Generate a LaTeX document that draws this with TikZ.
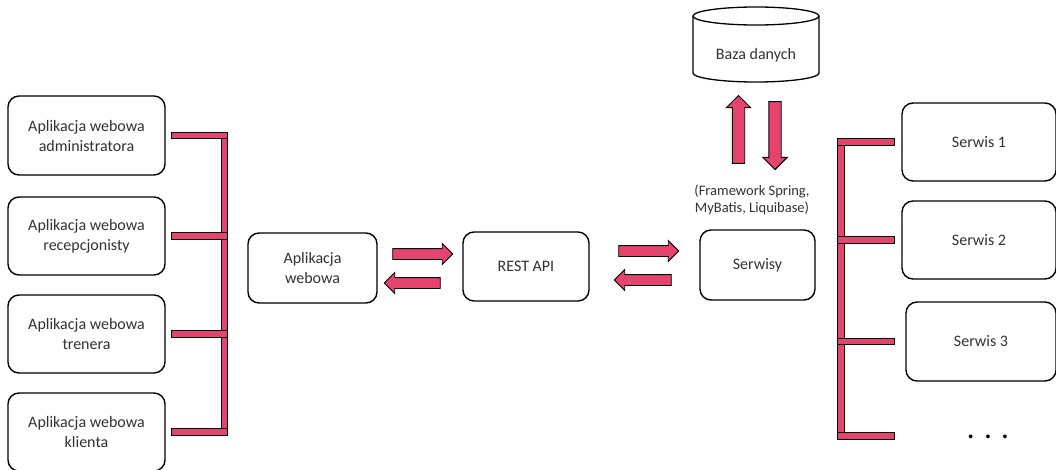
\documentclass[tikz,border=0pt]{standalone}
\usepackage{fontspec}
\setmainfont{Carlito}
\usetikzlibrary{shapes.arrows}

\definecolor{barpink}{RGB}{228,68,110}
\definecolor{txtgray}{RGB}{50,50,50}

\tikzset{
  box/.style={draw, line width=1.4pt, rounded corners=11pt, fill=white, text=txtgray,
    align=center, inner sep=0pt, font=\fontsize{16}{20}\selectfont},
  bar/.style={line width=0.9pt, double=barpink, double distance=5.5pt, line cap=rect},
  blk/.style={single arrow, draw, fill=barpink, line width=0.9pt, inner xsep=0pt,
    inner ysep=5pt, single arrow head extend=5pt},
}

\begin{document}
\begin{tikzpicture}[x=1pt,y=1pt]
      \useasboundingbox (0,0) rectangle (1056,-469);

      \node [box, minimum width=157pt, minimum height=79pt] (adm) at (86.5,-135.5) {Aplikacja webowa\\administratora};
      \node [box, minimum width=157pt, minimum height=78pt] (rec) at (86.5,-236) {Aplikacja webowa\\recepcjonisty};
      \node [box, minimum width=157pt, minimum height=78pt] (tre) at (86.5,-334) {Aplikacja webowa\\trenera};
      \node [box, minimum width=157pt, minimum height=78pt] (kli) at (86.5,-432) {Aplikacja webowa\\klienta};

      \coordinate (busL) at (224.5,0);
      \draw[bar] (adm.east -| busL) -- (kli.east -| busL);
      \foreach \n in {adm,rec,tre,kli}
        \draw[bar] ([xshift=8.6pt]\n.east) -- (\n.east -| busL);

      \node [box, minimum width=129pt, minimum height=70pt] (web) at (312.5,-268) {Aplikacja\\webowa};
      \node [box, minimum width=126pt, minimum height=69pt] (rest) at (526,-266.5) {REST API};
      \node [box, minimum width=115pt, minimum height=70pt] (srv) at (757.5,-265) {Serwisy};

      \node [blk, minimum height=60pt] (toRest) at (420,-254) {};
      \node [blk, minimum height=56pt, rotate=180] (fromRest) at (415,-283) {};
      \node [blk, minimum height=60pt] (toSrv) at (646,-251) {};
      \node [blk, minimum height=57pt, rotate=180] (fromSrv) at (645.5,-280) {};

      % baza danych
      \draw[line width=1.3pt, fill=white] (693,-16) -- (693,-73)
        arc[start angle=180, end angle=360, x radius=63pt, y radius=9pt] -- (819,-16)
        arc[start angle=0, end angle=180, x radius=63pt, y radius=9pt] -- cycle;
      \draw[line width=1.3pt] (693,-16) arc[start angle=180, end angle=360, x radius=63pt, y radius=9pt];
      \node [text=txtgray, font=\fontsize{16}{20}\selectfont] (db) at (756,-55) {Baza danych};

      \node [blk, minimum height=68pt, inner ysep=5.75pt, single arrow head extend=6pt, rotate=90] (toDb) at (738.5,-132.5) {};
      \node [blk, minimum height=68pt, inner ysep=5.75pt, single arrow head extend=6pt, rotate=-90] (fromDb) at (775,-132.5) {};
      \node [text=txtgray, align=center, font=\fontsize{14.5}{17}\selectfont] (fw) at (752,-200) {(Framework Spring,\\MyBatis, Liquibase)};

      \node [box, minimum width=154pt, minimum height=78pt] (s1) at (979,-142) {Serwis 1};
      \node [box, minimum width=154pt, minimum height=78pt] (s2) at (979,-240) {Serwis 2};
      \node [box, minimum width=150pt, minimum height=79pt] (s3) at (981,-341.5) {Serwis 3};
      \node [anchor=base, font=\fontsize{31}{31}\selectfont] (dots) at (988,-438.5) {. . .};

      \coordinate (busR) at (841,0);
      \coordinate (barR) at (891.4,0);
      \coordinate (s4) at (891.4,-436);
      \draw[bar] (s1.west -| busR) -- (s4 -| busR);
      \foreach \n in {s1,s2,s3,s4}
        \draw[bar] (\n -| busR) -- (\n -| barR);
    \end{tikzpicture}
\end{document}
